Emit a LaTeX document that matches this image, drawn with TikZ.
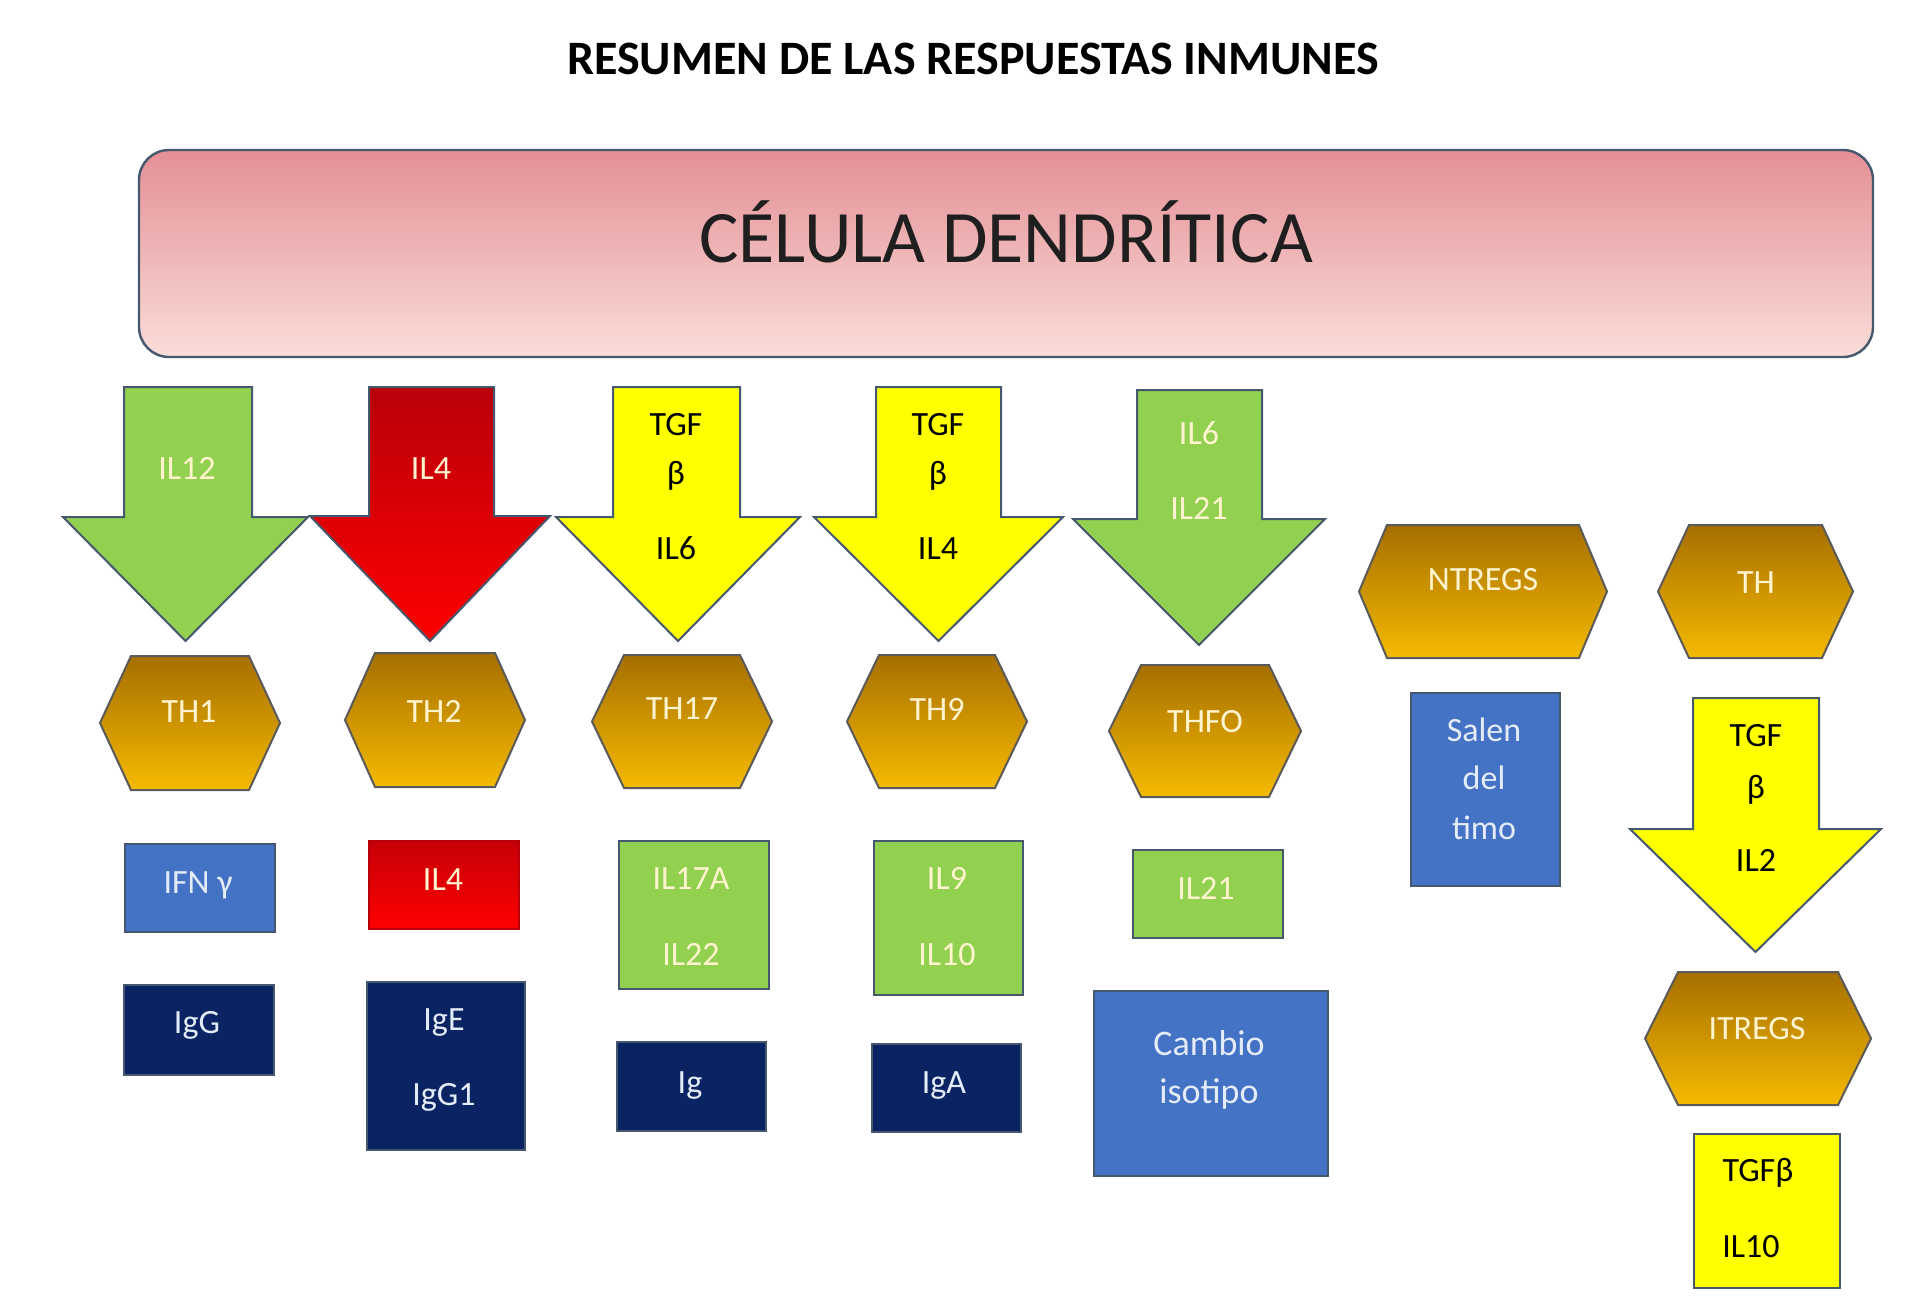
\documentclass[tikz,border=0pt]{standalone}
\usepackage{fontspec}
\setmainfont{Carlito}
\definecolor{grn}{HTML}{92D050}
\definecolor{ylw}{HTML}{FFFF00}
\definecolor{navy}{HTML}{0A2463}
\definecolor{bluebox}{HTML}{4472C4}
\definecolor{olc}{HTML}{46586E}
\definecolor{hexol}{HTML}{5A5A5A}
\definecolor{goldtop}{HTML}{A66F00}
\definecolor{goldbot}{HTML}{F5BA00}
\definecolor{pinktop}{HTML}{E48F95}
\definecolor{pinkbot}{HTML}{FADDD9}
\definecolor{redtop}{HTML}{B8000A}
\definecolor{redbot}{HTML}{FF0000}
\definecolor{lighttxt}{HTML}{FFF4CF}
\definecolor{bluetxt}{HTML}{E4ECF8}
\newcommand\lblfont{\fontsize{34}{40}\selectfont}
\newcommand\mydarrow[8]{%
  \path[#1] (#2,#4) -- (#3,#4) -- (#3,#5) -- (#7,#5) -- ({(#6+#7)/2},#8) -- (#6,#5) -- (#2,#5) -- cycle;}
\newcommand\myhex[5]{%
  \path[hexa] (#1,{(#3+#4)/2}) -- ({#1+#5},#3) -- ({#2-#5},#3) -- (#2,{(#3+#4)/2}) -- ({#2-#5},#4) -- ({#1+#5},#4) -- cycle;}
\tikzset{
  arrowline/.style={draw=olc, line width=2pt, line join=miter},
  greenarrow/.style={arrowline, fill=grn},
  yellowarrow/.style={arrowline, fill=ylw},
  redarrow/.style={arrowline, top color=redtop, bottom color=redbot},
  hexa/.style={draw=hexol, line width=2pt, top color=goldtop, bottom color=goldbot},
  box/.style={draw=olc, line width=2pt, rectangle, inner sep=0pt, anchor=north west},
  lbl/.style={font=\lblfont, inner sep=0pt, text height=22pt, text depth=0pt, text=lighttxt},
  dark/.style={lbl, text=black},
  bluelbl/.style={lbl, text=bluetxt},
}
\begin{document}
\begin{tikzpicture}[x=1pt,y=-1pt]
\useasboundingbox[fill=white] (0,0) rectangle (1928,1310);

% title
\node[font=\fontsize{48}{56}\selectfont\bfseries, inner sep=0pt, text height=31pt, text depth=0pt] (title) at (973,59) {RESUMEN DE LAS RESPUESTAS INMUNES};

% dendritic cell banner
\path[draw=olc, line width=2.4pt, rounded corners=30pt, top color=pinktop, bottom color=pinkbot] (139,150) rectangle (1873,357);
\node[font=\fontsize{74}{84}\selectfont, text=black!88, inner sep=0pt, text height=48pt, text depth=0pt] (dc) at (1006,238) {CÉLULA DENDRÍTICA};

% down arrows
\mydarrow{greenarrow}{124}{252}{387}{517}{63}{308}{641}
\mydarrow{redarrow}{369}{494}{387}{516}{310}{550}{641}
\mydarrow{yellowarrow}{613}{740}{387}{517}{556}{800}{641}
\mydarrow{yellowarrow}{876}{1001}{387}{517}{814}{1063}{641}
\mydarrow{greenarrow}{1137}{1262}{390}{519}{1073}{1325}{645}
\mydarrow{yellowarrow}{1693}{1819}{698}{829}{1630}{1881}{952}

\node[lbl] (a1) at (187,468) {IL12};
\node[lbl] (a2) at (431,468) {IL4};
\node[dark] (a3a) at (676,424) {TGF};
\node[dark] (a3b) at (676,473) {β};
\node[dark] (a3c) at (676,548) {IL6};
\node[dark] (a4a) at (938,424) {TGF};
\node[dark] (a4b) at (938,473) {β};
\node[dark] (a4c) at (938,548) {IL4};
\node[lbl] (a5a) at (1199,433) {IL6};
\node[lbl] (a5b) at (1199,508) {IL21};
\node[dark] (a6a) at (1756,735) {TGF};
\node[dark] (a6b) at (1756,787) {β};
\node[dark] (a6c) at (1756,860) {IL2};

% hexagons
\myhex{100}{280}{656}{790}{31}
\myhex{345}{525}{653}{787}{30}
\myhex{592}{772}{655}{788}{32}
\myhex{847}{1027}{655}{788}{32}
\myhex{1109}{1301}{665}{797}{32}
\myhex{1359}{1607}{525}{658}{28}
\myhex{1658}{1853}{525}{658}{31}
\myhex{1645}{1871}{972}{1105}{33}

\node[lbl] (th1) at (189,711) {TH1};
\node[lbl] (th2) at (434,711) {TH2};
\node[lbl] (th17) at (682,708) {TH17};
\node[lbl] (th9) at (937,709) {TH9};
\node[lbl] (thfo) at (1205,721) {THFO};
\node[lbl] (ntregs) at (1483,579) {NTREGS};
\node[lbl] (th) at (1756,582) {TH};
\node[lbl] (itregs) at (1757,1028) {ITREGS};

% boxes
\node[box, fill=bluebox, minimum width=150pt, minimum height=88pt] (b1) at (124,843) {};
\node[box, fill=navy, minimum width=150pt, minimum height=90pt] (b2) at (123,984) {};
\node[box, draw=redtop, top color=redtop!80!redbot, bottom color=redbot, minimum width=150pt, minimum height=88pt] (b3) at (368,840) {};
\node[box, fill=navy, minimum width=158pt, minimum height=168pt] (b4) at (366,981) {};
\node[box, fill=grn, minimum width=150pt, minimum height=148pt] (b5) at (618,840) {};
\node[box, fill=navy, minimum width=149pt, minimum height=89pt] (b6) at (616,1041) {};
\node[box, fill=grn, minimum width=149pt, minimum height=154pt] (b7) at (873,840) {};
\node[box, fill=navy, minimum width=149pt, minimum height=88pt] (b8) at (871,1043) {};
\node[box, fill=grn, minimum width=150pt, minimum height=88pt] (b9) at (1132,849) {};
\node[box, fill=bluebox, minimum width=234pt, minimum height=185pt] (b10) at (1093,990) {};
\node[box, fill=bluebox, minimum width=149pt, minimum height=193pt] (b11) at (1410,692) {};
\node[box, fill=ylw, minimum width=146pt, minimum height=154pt] (b12) at (1693,1133) {};

\node[bluelbl] (t1) at (198,882) {IFN γ};
\node[bluelbl] (t2) at (197,1022) {IgG};
\node[lbl] (t3) at (443,879) {IL4};
\node[bluelbl] (t4a) at (444,1019) {IgE};
\node[bluelbl] (t4b) at (444,1094) {IgG1};
\node[lbl] (t5a) at (691,878) {IL17A};
\node[lbl] (t5b) at (691,954) {IL22};
\node[bluelbl] (t6) at (690,1082) {Ig};
\node[lbl] (t7a) at (947,878) {IL9};
\node[lbl] (t7b) at (947,954) {IL10};
\node[bluelbl] (t8) at (944,1082) {IgA};
\node[lbl] (t9) at (1206,888) {IL21};
\node[bluelbl, font=\fontsize{36}{42}\selectfont] (t10a) at (1209,1044) {Cambio};
\node[bluelbl, font=\fontsize{36}{42}\selectfont] (t10b) at (1209,1092) {isotipo};
\node[bluelbl] (t11a) at (1484,730) {Salen};
\node[bluelbl] (t11b) at (1484,778) {del};
\node[bluelbl] (t11c) at (1484,828) {timo};
\node[dark] (t12a) at (1758,1170) {TGFβ};
\node[dark] (t12b) at (1751,1246) {IL10};
\end{tikzpicture}
\end{document}
